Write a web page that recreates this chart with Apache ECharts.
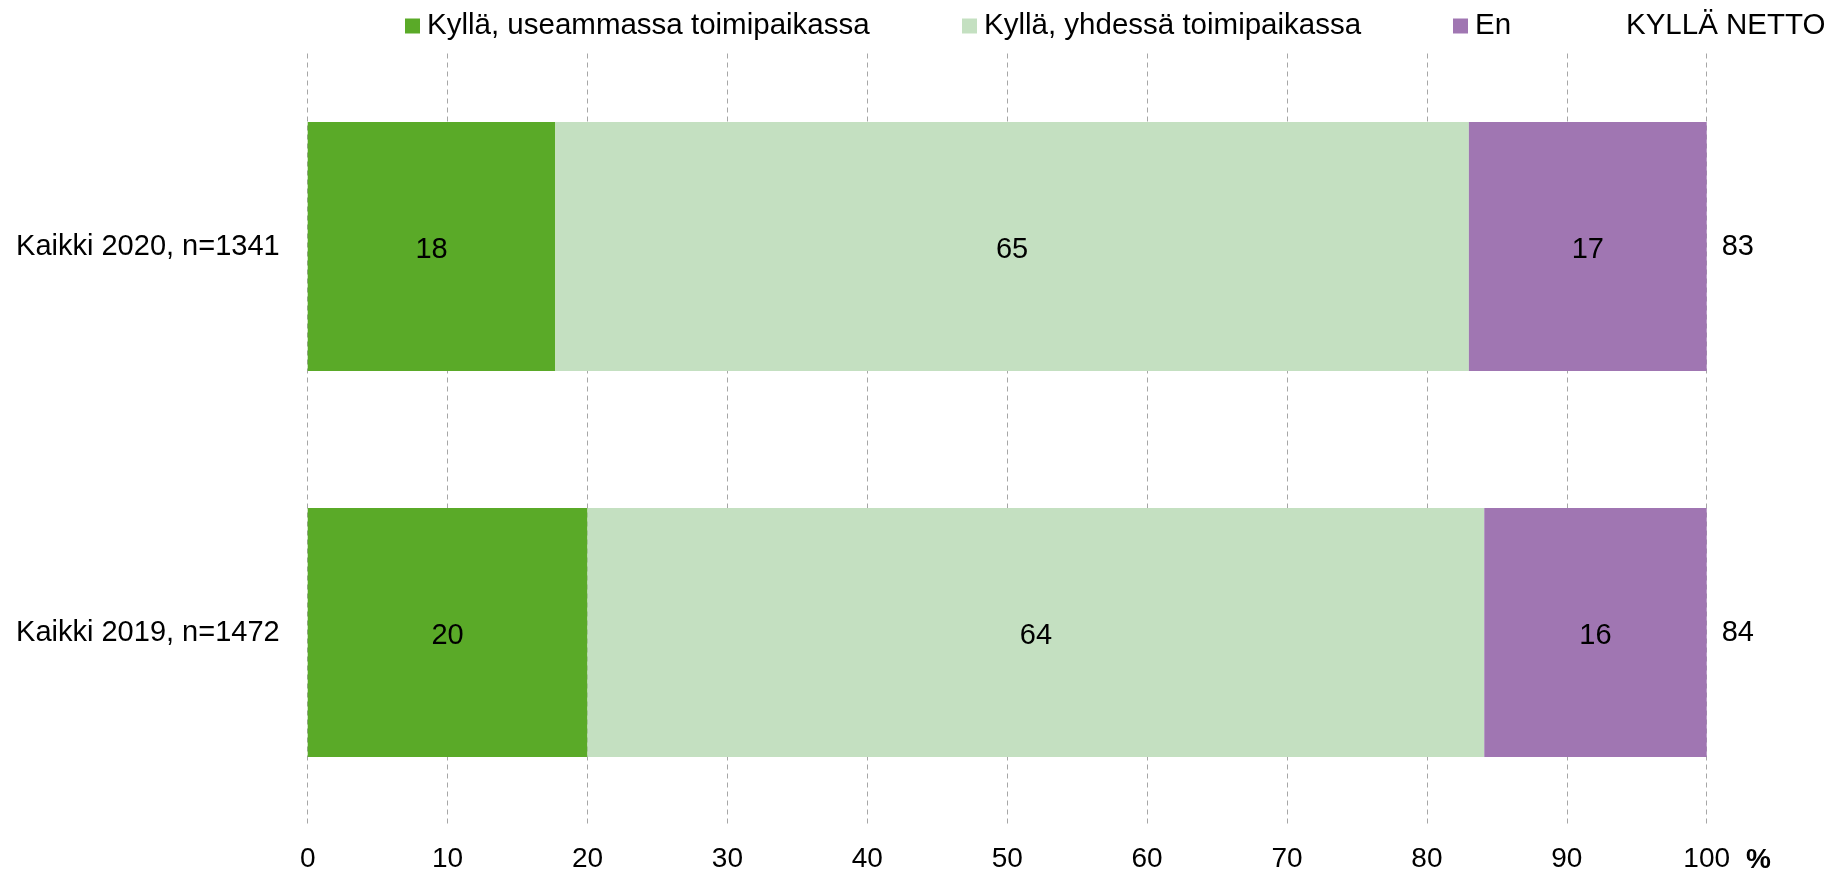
<!DOCTYPE html>
<html>
<head>
<meta charset="utf-8">
<script src="https://cdn.jsdelivr.net/npm/echarts@6/dist/echarts.min.js"></script>
<style>
html,body{margin:0;padding:0;background:#fff;}
#c{width:1831px;height:874px;}
</style>
</head>
<body>
<div id="c"></div>
<script>
var categories = ['Kaikki 2020, n=1341', 'Kaikki 2019, n=1472'];
var seriesNames = ['Kyllä, useammassa toimipaikassa', 'Kyllä, yhdessä toimipaikassa', 'En'];
var useammassa = [17.7, 20.0];
var yhdessa = [65.3, 64.1];
var en = [17.0, 15.9];
var labelsUseammassa = ['18', '20'];
var labelsYhdessa = ['65', '64'];
var labelsEn = ['17', '16'];
var netto = ['83', '84'];
var xTicks = [0, 10, 20, 30, 40, 50, 60, 70, 80, 90, 100];
var nettoTitle = 'KYLLÄ NETTO';
var unitLabel = '%';

var colors = ['#5aaa28', '#c4e0c1', '#a076b2'];
var FONT = '"Liberation Sans", Arial, sans-serif';
var FS = 29;
var LFS = 29.5;

var chart = echarts.init(document.getElementById('c'));

function mkSeries(i, values, labels) {
  return {
    name: seriesNames[i],
    type: 'bar',
    stack: 'total',
    barWidth: '64.5%',
    data: values,
    itemStyle: { color: colors[i] },
    label: {
      show: true,
      position: 'inside',
      offset: [0, 3],
      color: '#000',
      fontFamily: FONT,
      fontSize: FS,
      formatter: function (p) { return labels[p.dataIndex]; }
    },
    emphasis: { disabled: true },
    animation: false
  };
}

function mkLegend(i, left) {
  return {
    data: [seriesNames[i]],
    left: left,
    top: 11,
    itemWidth: 15,
    itemHeight: 15,
    icon: 'rect',
    padding: 0,
    textStyle: { color: '#000', fontFamily: FONT, fontSize: LFS, padding: [0, 0, 0, 2] }
  };
}

chart.setOption({
  animation: false,
  backgroundColor: '#fff',
  legend: [mkLegend(0, 405), mkLegend(1, 962), mkLegend(2, 1453)],
  grid: { left: 307.7, right: 124.3, top: 53.5, bottom: 48.5, containLabel: false },
  xAxis: {
    type: 'value',
    min: 0,
    max: 100,
    interval: 10,
    axisLine: { show: false },
    axisTick: { show: false },
    splitLine: { show: true, lineStyle: { color: '#a6a6a6', type: [5, 4], width: 1 } },
    axisLabel: {
      color: '#000', fontFamily: FONT, fontSize: 28, margin: 20,
      formatter: function (v) { return xTicks.indexOf(v) >= 0 ? String(v) : ''; }
    }
  },
  yAxis: [{
    type: 'category',
    data: categories,
    inverse: true,
    axisLine: { show: false },
    axisTick: { show: false },
    splitLine: { show: false },
    axisLabel: { color: '#000', fontFamily: FONT, fontSize: FS, margin: 28, padding: [6, 0, 0, 0] }
  }, {
    type: 'category',
    data: netto,
    inverse: true,
    position: 'right',
    axisLine: { show: false },
    axisTick: { show: false },
    splitLine: { show: false },
    axisLabel: { color: '#000', fontFamily: FONT, fontSize: FS, margin: 15, padding: [6, 0, 0, 0] }
  }],
  series: [
    mkSeries(0, useammassa, labelsUseammassa),
    mkSeries(1, yhdessa, labelsYhdessa),
    mkSeries(2, en, labelsEn)
  ],
  graphic: [
    {
      type: 'text', left: 1626, top: 11,
      style: { text: nettoTitle, fill: '#000', font: LFS + 'px ' + FONT }
    },
    {
      type: 'text', left: 1746, top: 846,
      style: { text: unitLabel, fill: '#000', font: 'bold 28px ' + FONT }
    }
  ]
});
</script>
</body>
</html>
